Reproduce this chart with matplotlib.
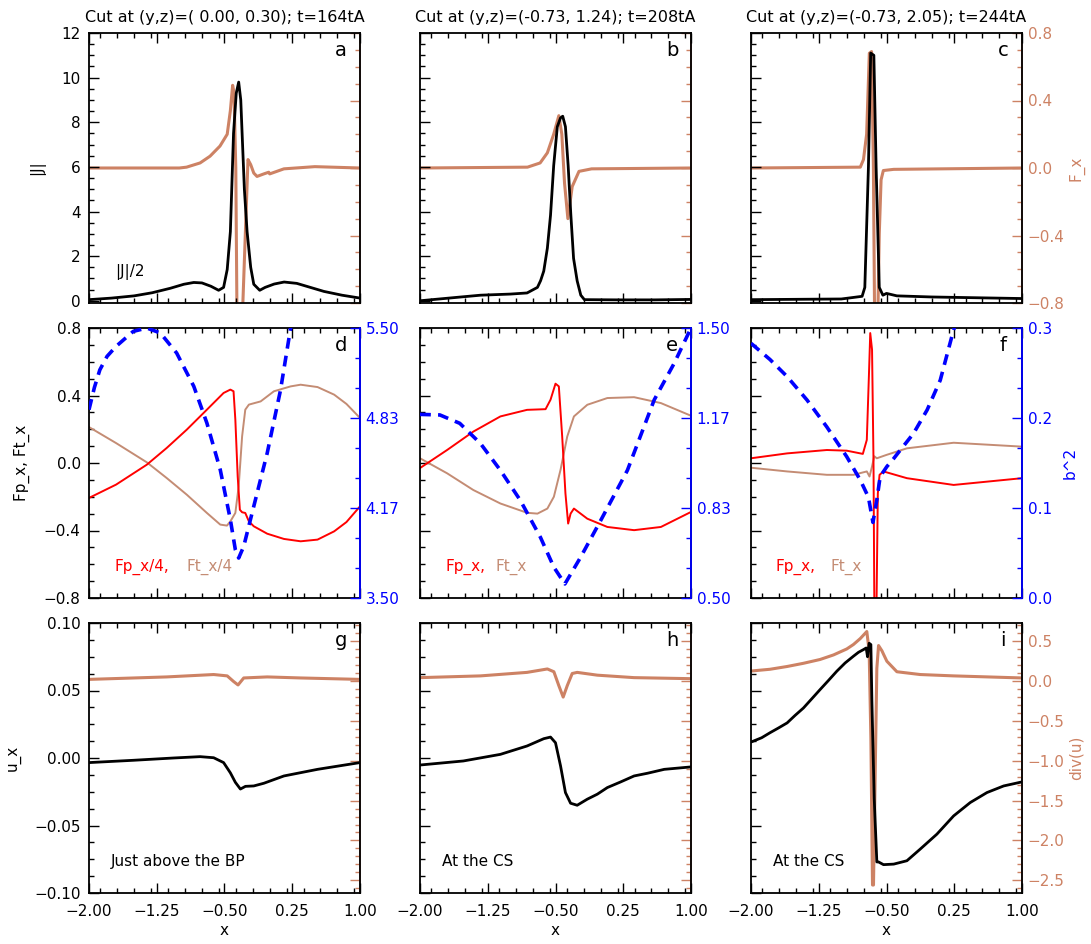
import numpy as np
import matplotlib
matplotlib.use('Agg')
import matplotlib.pyplot as plt
from matplotlib.ticker import FixedLocator, MultipleLocator, FuncFormatter

plt.rcParams['font.family'] = 'DejaVu Sans'
plt.rcParams['font.size'] = 11

BROWN = '#cd8264'   # thick F_x / div(u) lines
TAN = '#c48c74'     # thin Ft_x lines
RED = '#ff0000'
BLUE = '#0000ff'

titles = ['Cut at (y,z)=( 0.00, 0.30); t=164tA',
          'Cut at (y,z)=(-0.73, 1.24); t=208tA',
          'Cut at (y,z)=(-0.73, 2.05); t=244tA']
letters = ['a', 'b', 'c', 'd', 'e', 'f', 'g', 'h', 'i']
xticks = [-2.0, -1.25, -0.5, 0.25, 1.0]

# ---- row 1: |J| (black, left) and F_x (brown, right)
ja_x = [-2.0, -1.75, -1.5, -1.3, -1.1, -0.95, -0.84, -0.75, -0.65, -0.565, -0.51, -0.47, -0.435, -0.40, -0.37,
        -0.343, -0.32, -0.305, -0.28, -0.25, -0.21, -0.176, -0.11, -0.05, 0.05, 0.16, 0.3, 0.45, 0.6, 0.8, 1.0]
ja_y = [0.05, 0.12, 0.22, 0.36, 0.56, 0.74, 0.82, 0.8, 0.65, 0.47, 0.6, 1.4, 3.1, 7.5, 9.3,
        9.8, 9.0, 7.5, 5.0, 3.1, 1.5, 0.74, 0.47, 0.6, 0.75, 0.84, 0.78, 0.6, 0.42, 0.25, 0.12]
fa_x = [-2.0, -1.0, -0.92, -0.77, -0.66, -0.55, -0.47, -0.435, -0.41, -0.395, -0.375, -0.36, -0.31, -0.24,
        -0.21, -0.176, -0.14, -0.065, -0.01, 0.0, 0.158, 0.5, 1.0]
fa_y = [0.0, 0.0, 0.005, 0.03, 0.07, 0.13, 0.2, 0.34, 0.49, 0.45, 0.0, -1.0, -1.0, 0.05,
        0.02, -0.03, -0.05, -0.035, -0.025, -0.035, -0.005, 0.008, 0.0]

jb_x = [-2.0, -1.6, -1.33, -1.0, -0.815, -0.70, -0.665, -0.63, -0.59, -0.555, -0.52, -0.48, -0.444, -0.42,
        -0.39, -0.36, -0.33, -0.30, -0.26, -0.22, -0.18, 0.2, 0.6, 1.0]
jb_y = [0.0, 0.15, 0.25, 0.3, 0.35, 0.6, 0.9, 1.33, 2.36, 3.84, 6.06, 7.8, 8.2, 8.27,
        7.8, 6.06, 3.84, 1.9, 0.89, 0.25, 0.05, 0.04, 0.04, 0.06]
fb_x = [-2.0, -0.81, -0.67, -0.59, -0.52, -0.463, -0.43, -0.40, -0.363, -0.315, -0.24, -0.1, 1.0]
fb_y = [0.0, 0.005, 0.03, 0.09, 0.2, 0.31, 0.2, -0.09, -0.3, -0.11, -0.02, -0.005, 0.0]

jc_x = [-2.0, -1.0, -0.865, -0.77, -0.74, -0.70, -0.675, -0.64, -0.615, -0.58, -0.54, -0.5, -0.385, 0.0, 1.0]
jc_y = [0.05, 0.08, 0.15, 0.2, 0.6, 6.0, 11.1, 11.0, 6.0, 0.6, 0.25, 0.33, 0.22, 0.17, 0.1]
fc_x = [-2.0, -0.79, -0.755, -0.72, -0.69, -0.665, -0.645, -0.63, -0.60, -0.58, -0.56, -0.535, -0.42, 1.0]
fc_y = [0.0, 0.005, 0.05, 0.2, 0.68, 0.69, 0.0, -1.0, -1.0, -0.39, -0.07, -0.015, -0.008, 0.0]

# ---- row 2: Fp_x (red), Ft_x (tan) on left, b^2 (blue dashed) on right
fpd_x = [-2.0, -1.70, -1.36, -1.14, -0.917, -0.695, -0.51, -0.435, -0.40, -0.38, -0.354, -0.33, -0.305, -0.27,
         -0.23, -0.176, -0.027, 0.158, 0.343, 0.53, 0.714, 0.85, 1.0]
fpd_y = [-0.207, -0.128, -0.01, 0.089, 0.198, 0.316, 0.415, 0.435, 0.425, 0.257, -0.08, -0.277, -0.292, -0.296,
         -0.346, -0.375, -0.419, -0.45, -0.464, -0.454, -0.405, -0.35, -0.257]
ftd_x = [-2.0, -1.70, -1.36, -1.14, -0.917, -0.695, -0.547, -0.473, -0.435, -0.38, -0.343, -0.305, -0.27, -0.23,
         -0.10, 0.047, 0.232, 0.343, 0.53, 0.714, 0.85, 1.0]
ftd_y = [0.213, 0.118, 0.004, -0.089, -0.188, -0.296, -0.365, -0.371, -0.346, -0.296, -0.138, 0.158, 0.316, 0.346,
         0.365, 0.425, 0.454, 0.464, 0.45, 0.405, 0.35, 0.267]
bd_x = [-2.0, -1.94, -1.88, -1.80, -1.70, -1.51, -1.36, -1.21, -1.03, -0.84, -0.695, -0.547, -0.435, -0.38, -0.343,
        -0.287, -0.176, -0.027, 0.12, 0.232, 0.40, 0.70, 1.0]
bd_y = [4.895, 5.06, 5.19, 5.29, 5.364, 5.475, 5.50, 5.463, 5.315, 5.068, 4.796, 4.45, 4.08, 3.858, 3.796,
        3.883, 4.179, 4.574, 5.04, 5.5, 6.0, 6.8, 7.5]

fpe_x = [-2.0, -1.70, -1.41, -1.11, -0.815, -0.61, -0.555, -0.5, -0.463, -0.426, -0.39, -0.36, -0.333, -0.296,
         -0.148, 0.074, 0.37, 0.667, 1.0]
fpe_y = [-0.03, 0.077, 0.186, 0.276, 0.315, 0.319, 0.375, 0.47, 0.454, 0.157, -0.18, -0.359, -0.3, -0.27,
         -0.33, -0.379, -0.398, -0.379, -0.29]
fte_x = [-2.0, -1.70, -1.41, -1.11, -0.815, -0.70, -0.59, -0.518, -0.444, -0.37, -0.296, -0.148, 0.074, 0.37,
         0.667, 1.0]
fte_y = [0.028, -0.061, -0.16, -0.24, -0.295, -0.30, -0.27, -0.2, -0.04, 0.157, 0.276, 0.345, 0.385, 0.39,
         0.355, 0.28]
be_x = [-2.0, -1.78, -1.56, -1.33, -1.11, -0.89, -0.667, -0.518, -0.396, -0.222, 0.0, 0.296, 0.593, 0.815, 1.0]
be_y = [1.18, 1.178, 1.147, 1.072, 0.973, 0.862, 0.725, 0.614, 0.552, 0.651, 0.787, 0.973, 1.234, 1.37, 1.5]

fpf_x = [-2.0, -1.6, -1.16, -0.94, -0.762, -0.718, -0.695, -0.68, -0.66, -0.644, -0.633, -0.614, -0.596, -0.577,
         -0.533, -0.274, 0.243, 1.0]
fpf_y = [0.028, 0.057, 0.077, 0.073, 0.054, 0.137, 0.513, 0.77, 0.672, 0.018, -1.0, -1.0, -0.18, -0.07,
         -0.05, -0.09, -0.13, -0.09]
ftf_x = [-2.0, -1.6, -1.16, -0.865, -0.718, -0.688, -0.66, -0.636, -0.607, -0.5, -0.274, 0.243, 1.0]
ftf_y = [-0.028, -0.05, -0.07, -0.07, -0.05, -0.08, -0.02, 0.04, 0.028, 0.048, 0.087, 0.12, 0.097]
bf_x = [-2.0, -1.79, -1.6, -1.38, -1.16, -0.94, -0.79, -0.70, -0.65, -0.607, -0.57, -0.496, -0.42, -0.35,
        -0.2, -0.05, 0.095, 0.243, 0.4, 0.7, 1.0]
bf_y = [0.283, 0.265, 0.246, 0.22, 0.19, 0.157, 0.131, 0.112, 0.084, 0.109, 0.135, 0.146, 0.155, 0.164,
        0.183, 0.209, 0.242, 0.298, 0.34, 0.42, 0.5]

# ---- row 3: u_x (black, left) and div(u) (brown, right)
ug_x = [-2.0, -1.51, -1.066, -0.77, -0.62, -0.51, -0.435, -0.38, -0.324, -0.268, -0.176, -0.064, 0.158, 0.53, 1.0]
ug_y = [-0.0034, -0.0017, 0.0, 0.001, 0.0002, -0.0034, -0.011, -0.018, -0.023, -0.021, -0.0207, -0.0187,
        -0.0133, -0.0084, -0.0034]
dg_x = [-2.0, -1.14, -0.62, -0.47, -0.40, -0.35, -0.287, -0.027, 0.343, 1.0]
dg_y = [0.022, 0.053, 0.083, 0.066, -0.004, -0.048, 0.04, 0.053, 0.04, 0.022]

uh_x = [-2.0, -1.52, -1.11, -0.815, -0.63, -0.555, -0.5, -0.444, -0.39, -0.333, -0.26, -0.148, -0.037, 0.074,
        0.222, 0.37, 0.518, 0.704, 1.0]
uh_y = [-0.0052, -0.0022, 0.0027, 0.0089, 0.0143, 0.0155, 0.0113, -0.0059, -0.0256, -0.0335, -0.035, -0.0305,
        -0.0268, -0.0219, -0.0177, -0.0133, -0.0113, -0.0084, -0.0066]
dh_x = [-2.0, -1.33, -0.815, -0.59, -0.518, -0.463, -0.415, -0.37, -0.315, -0.26, -0.037, 0.37, 1.0]
dh_y = [0.044, 0.066, 0.11, 0.153, 0.118, -0.057, -0.2, -0.057, 0.096, 0.11, 0.075, 0.044, 0.031]

ui_x = [-2.0, -1.882, -1.79, -1.697, -1.6, -1.513, -1.42, -1.328, -1.235, -1.143, -1.05, -0.958, -0.866, -0.81,
        -0.755, -0.725, -0.71, -0.692, -0.673, -0.662, -0.636, -0.607, -0.588, -0.533, -0.42, -0.274, -0.127,
        0.058, 0.243, 0.427, 0.612, 0.797, 1.0]
ui_y = [0.0118, 0.015, 0.0187, 0.0222, 0.026, 0.0315, 0.037, 0.0438, 0.0507, 0.0574, 0.0643, 0.0704, 0.0754,
        0.0783, 0.0803, 0.0815, 0.075, 0.085, 0.084, 0.043, -0.03, -0.077, -0.077, -0.079, -0.0786, -0.0761,
        -0.0675, -0.0564, -0.0429, -0.033, -0.0256, -0.0207, -0.0177]
di_x = [-2.0, -1.79, -1.6, -1.42, -1.235, -1.087, -0.94, -0.866, -0.79, -0.718, -0.692, -0.673, -0.655, -0.644,
        -0.625, -0.607, -0.588, -0.55, -0.533, -0.496, -0.459, -0.385, -0.127, 0.243, 1.0]
di_y = [0.127, 0.149, 0.184, 0.224, 0.272, 0.329, 0.404, 0.46, 0.535, 0.623, 0.38, -0.715, -2.56, -2.56,
        -1.15, 0.16, 0.447, 0.38, 0.338, 0.25, 0.206, 0.118, 0.083, 0.066, 0.04]

row1 = [(ja_x, ja_y, fa_x, fa_y), (jb_x, jb_y, fb_x, fb_y), (jc_x, jc_y, fc_x, fc_y)]
row2 = [(fpd_x, fpd_y, ftd_x, ftd_y, bd_x, bd_y, (3.5, 5.5), '%.2f'),
        (fpe_x, fpe_y, fte_x, fte_y, be_x, be_y, (0.5, 1.5), '%.2f'),
        (fpf_x, fpf_y, ftf_x, ftf_y, bf_x, bf_y, (0.0, 0.3), '%.1f')]
row3 = [(ug_x, ug_y, dg_x, dg_y), (uh_x, uh_y, dh_x, dh_y), (ui_x, ui_y, di_x, di_y)]
row2_labels = [('Fp_x/4,', 'Ft_x/4', 0.095, 0.361), ('Fp_x,', 'Ft_x', 0.093, 0.278), ('Fp_x,', 'Ft_x', 0.089, 0.292)]
row3_notes = ['Just above the BP', 'At the CS', 'At the CS']

W, H = 1091, 944
col_x = [89, 420, 751]
row_top = [33, 328, 623]
aw, ah = 271, 270

fig = plt.figure(figsize=(W / 100, H / 100), dpi=100)


def fmt_minus(fmt):
    # IDL style labels with a real minus sign
    def f(v, pos):
        if abs(v) < 1e-9:
            v = 0.0
        return (fmt % v).replace('-', '\u2212')
    return FuncFormatter(f)


def make_axes(r, c):
    ax = fig.add_axes([col_x[c] / W, 1 - (row_top[r] + ah) / H, aw / W, ah / H])
    ax.set_xlim(-2, 1)
    ax.xaxis.set_major_locator(FixedLocator(xticks))
    ax.xaxis.set_minor_locator(MultipleLocator(0.1875))
    ax.xaxis.set_major_formatter(fmt_minus('%.2f'))
    ax.tick_params(which='both', direction='in', top=True, right=False, width=1)
    ax.tick_params(which='major', length=7)
    ax.tick_params(which='minor', length=3.5)
    ax.tick_params(axis='x', pad=8)
    ax.tick_params(axis='y', pad=6)
    for s in ax.spines.values():
        s.set_linewidth(1.3)
    if r < 2:
        ax.tick_params(labelbottom=False)
    else:
        ax.set_xlabel('x', labelpad=3)
    ax.text(0.93, 0.935, letters[3 * r + c], transform=ax.transAxes, fontsize=14, ha='center', va='center')
    return ax


def twin(ax, color):
    ax2 = ax.twinx()
    for k in ['left', 'top', 'bottom']:
        ax2.spines[k].set_visible(False)
    ax2.spines['right'].set_color(color)
    ax2.spines['right'].set_linewidth(1.3)
    ax2.tick_params(which='both', direction='in', color=color, labelcolor=color, width=1, pad=4)
    ax2.tick_params(which='major', length=7)
    ax2.tick_params(which='minor', length=3.5)
    return ax2


for c in range(3):
    # row 1
    jx, jy, fx, fy = row1[c]
    ax = make_axes(0, c)
    ax.set_title(titles[c], fontsize=11.5, pad=8)
    ax.set_ylim(-0.1, 12)
    ax.yaxis.set_major_locator(MultipleLocator(2))
    ax.yaxis.set_minor_locator(MultipleLocator(0.5))
    ax2 = twin(ax, BROWN)
    ax2.set_ylim(-0.8, 0.8)
    ax2.yaxis.set_major_locator(MultipleLocator(0.4))
    ax2.yaxis.set_minor_locator(MultipleLocator(0.1))
    ax2.yaxis.set_major_formatter(fmt_minus('%.1f'))
    ax2.plot(fx, fy, color=BROWN, lw=2.2)
    ax.set_zorder(ax2.get_zorder() + 1)
    ax.patch.set_visible(False)
    ax.plot(jx, jy, color='black', lw=2.0)
    if c == 0:
        ax.set_ylabel('|J|', labelpad=12)
        ax.text(0.095, 0.1, '|J|/2', transform=ax.transAxes, fontsize=11)
    else:
        ax.tick_params(labelleft=False)
    if c == 2:
        ax2.set_ylabel('F_x', color=BROWN, labelpad=3)
    else:
        ax2.tick_params(labelright=False)

    # row 2
    px, py, tx, ty, bx, by, (lo, hi), fmt = row2[c]
    ax = make_axes(1, c)
    ax.set_ylim(-0.8, 0.8)
    ax.yaxis.set_major_locator(MultipleLocator(0.4))
    ax.yaxis.set_minor_locator(MultipleLocator(0.1))
    ax.yaxis.set_major_formatter(fmt_minus('%.1f'))
    ax.plot(tx, ty, color=TAN, lw=1.4)
    ax.plot(px, py, color=RED, lw=1.4)
    ax2 = twin(ax, BLUE)
    ax2.set_ylim(lo, hi)
    ax2.yaxis.set_major_locator(FixedLocator(np.linspace(lo, hi, 4)))
    ax2.yaxis.set_minor_locator(FixedLocator(np.linspace(lo, hi, 10)))
    ax2.yaxis.set_major_formatter(fmt_minus(fmt))
    ax2.plot(bx, by, color=BLUE, lw=2.6, ls=(0, (3, 2)))
    t1, t2, p1, p2 = row2_labels[c]
    ax.text(p1, 0.1, t1, transform=ax.transAxes, color=RED, fontsize=11)
    ax.text(p2, 0.1, t2, transform=ax.transAxes, color=TAN, fontsize=11)
    if c == 0:
        ax.set_ylabel('Fp_x, Ft_x', labelpad=10)
    else:
        ax.tick_params(labelleft=False)
    if c == 2:
        ax2.set_ylabel('b^2', color=BLUE, labelpad=8)

    # row 3
    ux, uy, dx, dy = row3[c]
    ax = make_axes(2, c)
    ax.set_ylim(-0.1, 0.1)
    ax.yaxis.set_major_locator(MultipleLocator(0.05))
    ax.yaxis.set_minor_locator(MultipleLocator(0.0125))
    ax.yaxis.set_major_formatter(fmt_minus('%.2f'))
    ax2 = twin(ax, BROWN)
    ax2.set_ylim(-2.66, 0.73)
    ax2.yaxis.set_major_locator(MultipleLocator(0.5))
    ax2.yaxis.set_minor_locator(MultipleLocator(0.1))
    ax2.yaxis.set_major_formatter(fmt_minus('%.1f'))
    ax2.plot(dx, dy, color=BROWN, lw=2.2)
    ax.set_zorder(ax2.get_zorder() + 1)
    ax.patch.set_visible(False)
    ax.plot(ux, uy, color='black', lw=2.0)
    ax.text(0.08, 0.1, row3_notes[c], transform=ax.transAxes, fontsize=11)
    if c == 0:
        ax.set_ylabel('u_x', labelpad=10)
    else:
        ax.tick_params(labelleft=False)
    if c == 2:
        ax2.set_ylabel('div(u)', color=BROWN, labelpad=3)
    else:
        ax2.tick_params(labelright=False)

fig.savefig('out.png', dpi=100)
